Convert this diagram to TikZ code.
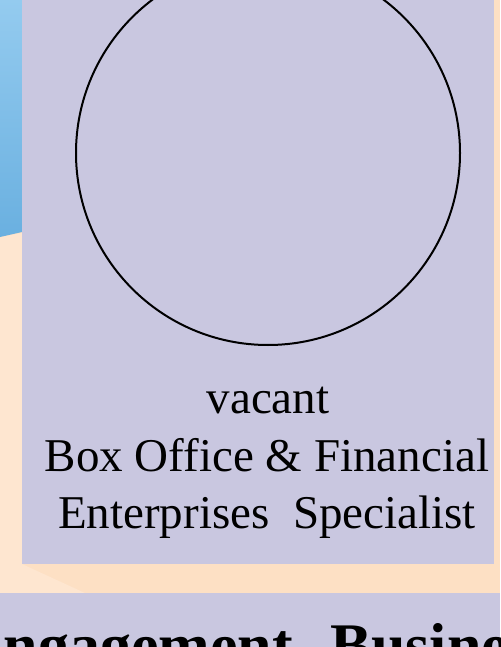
\documentclass[tikz,border=0pt]{standalone}
\usepackage{fontspec}
\setmainfont{Liberation Serif}
\newfontfamily\cardfont{Liberation Serif}
\definecolor{cardfill}{HTML}{C9C7E0}
\definecolor{peach}{HTML}{FDE0C4}
\definecolor{peachlight}{HTML}{FEE6D0}
\definecolor{skytop}{HTML}{94CBEF}
\definecolor{skybottom}{HTML}{6AB0E0}
\tikzset{
  nametext/.style={inner sep=0pt, anchor=base, font=\cardfont\fontsize{47}{57}\selectfont},
  unittext/.style={inner sep=0pt, anchor=base west, font=\cardfont\bfseries\fontsize{62}{72}\selectfont}
}
\begin{document}
\begin{tikzpicture}[x=1pt, y=-1pt]
    % page and background
    \useasboundingbox (0,0) rectangle (500,647);
    \clip (0,0) rectangle (500,647);
    \fill[peach] (0,0) rectangle (500,647);
    \fill[peachlight] (0,237) -- (22,233) -- (22,564) -- (85,593) -- (0,593) -- cycle;
    \shade[top color=skytop, bottom color=skybottom] (0,0) -- (22,0) -- (22,232) -- (0,237) -- cycle;
    % person card
    \coordinate (c1) at (22,0); \coordinate (c2) at (494,564);
    \fill[cardfill] (c1) rectangle (c2);
    \node[draw, circle, line width=2pt, minimum size=384pt, inner sep=0pt] (photo) at (268,153) {};
    \node[nametext] (vacant) at (268,413) {vacant};
    \node[nametext] (role1) at (267,471) {Box Office \& Financial};
    \node[nametext] (role2) at (267,528) {Enterprises\ \ Specialist};
    % unit banner
    \coordinate (b1) at (0,593); \coordinate (b2) at (500,647);
    \fill[cardfill] (b1) rectangle (b2);
    \node[unittext] (unit) at (-38,666) {Engagement\hspace{0.6em}Business};
\end{tikzpicture}
\end{document}
